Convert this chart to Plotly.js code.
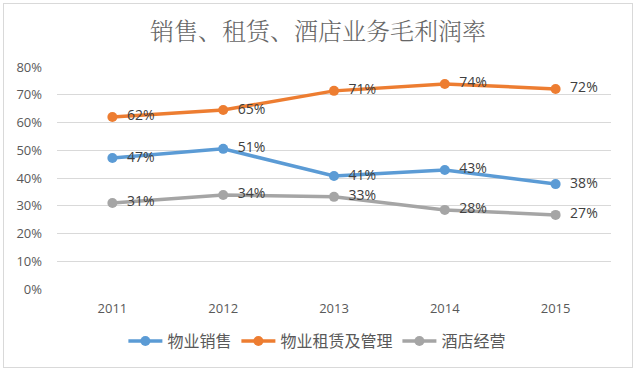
<!DOCTYPE html>
<html><head><meta charset="utf-8">
<script src="https://cdn.plot.ly/plotly-3.0.1.min.js"></script>
<style>
html,body{margin:0;padding:0;background:#fff;}
#wrap{position:relative;width:636px;height:371px;}
#chart{width:636px;height:371px;}
#frame{position:absolute;left:3px;top:3px;width:628px;height:363px;border:1px solid #d9d9d9;pointer-events:none;}
</style></head>
<body><div id="wrap"><div id="chart"></div><div id="frame"></div></div>
<script>
const years = ['2011','2012','2013','2014','2015'];
const sales = [0.472, 0.505, 0.407, 0.429, 0.378];
const rental = [0.620, 0.645, 0.714, 0.739, 0.721];
const hotel = [0.310, 0.339, 0.332, 0.285, 0.267];
const names = ['物业销售','物业租赁及管理','酒店经营'];
const colors = ['#5B9BD5','#ED7D31','#A5A5A5'];
const yTicks = [0,0.1,0.2,0.3,0.4,0.5,0.6,0.7,0.8];

const font = "Open Sans, Noto Sans CJK SC, sans-serif";
const series = [sales, rental, hotel];
const traces = series.map((v,i)=>({
  x: years, y: v, name: names[i], type:'scatter', mode:'lines+markers+text',
  line:{color:colors[i], width:3.5},
  marker:{color:colors[i], size:10},
  text: v, texttemplate:'\u00a0\u00a0%{text:.0%}', textposition:'middle right',
  textfont:{size:14, color:'#404040', family:font},
  cliponaxis:false
}));

const layout = {
  width:636, height:371,
  margin:{l:57, r:25, t:67, b:82},
  paper_bgcolor:'#fff', plot_bgcolor:'#fff',
  title:{text:'销售、租赁、酒店业务毛利润率', x:0.5, xanchor:'center', y:0.915, yanchor:'middle',
    font:{size:24, color:'#666666', weight:300, family:"Noto Serif CJK SC, Noto Sans CJK SC, serif"}},
  xaxis:{type:'category', range:[-0.5,4.5], showgrid:false, zeroline:false, showline:false,
    ticks:'', tickfont:{size:13, color:'#595959', family:font}, ticklabelstandoff:10},
  yaxis:{range:[0,0.8], tickvals:yTicks, tickformat:'.0%', showgrid:true, gridcolor:'#d9d9d9', gridwidth:1,
    zeroline:false, showline:false, ticks:'', tickfont:{size:13, color:'#595959', family:font}, ticklabelstandoff:14},
  legend:{orientation:'h', x:0.47, xanchor:'center', y:-0.235, yanchor:'middle',
    font:{size:16, color:'#595959', family:"Noto Sans CJK SC, sans-serif"}, itemwidth:34, traceorder:'normal'},
  showlegend:true
};
Plotly.newPlot('chart', traces, layout, {displayModeBar:false, staticPlot:true});
</script></body></html>
